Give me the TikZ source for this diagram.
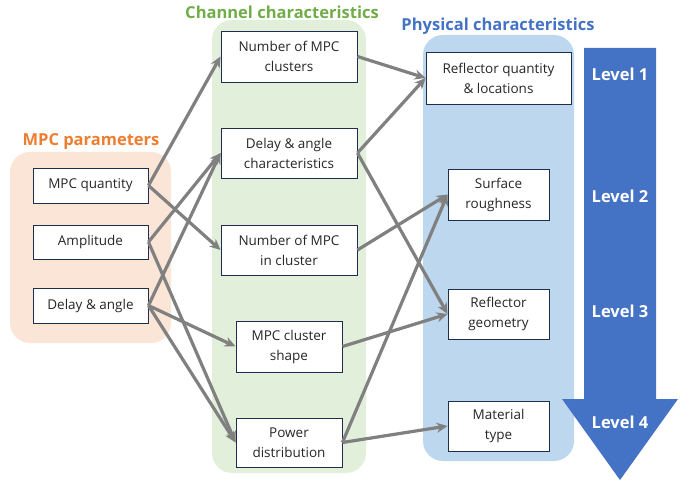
\documentclass[tikz,border=0pt]{standalone}
\usepackage{fontspec}
\setmainfont{Open Sans}
\usetikzlibrary{arrows.meta}
\definecolor{paramfill}{HTML}{FBE5D6}
\definecolor{paramtext}{HTML}{ED7D31}
\definecolor{chanfill}{HTML}{E2EFDA}
\definecolor{chantext}{HTML}{70AD47}
\definecolor{physfill}{HTML}{BDD7EE}
\definecolor{phystext}{HTML}{4472C4}
\definecolor{boxline}{HTML}{1F2D4E}
\definecolor{linkgray}{HTML}{808080}
\def\paramgroup{(10,152) rectangle (171,343)}
\def\changroup{(212,20) rectangle (366,473)}
\def\physgroup{(423,35) rectangle (574,461)}
\def\levelarrow{(584,48) -- (656,48) -- (656,399) -- (678,399) -- (620,480) -- (562,399) -- (584,399) -- cycle}

\begin{document}
\begin{tikzpicture}[x=1pt,y=-1pt,
  every node/.style={font=\fontsize{13.5}{20}\selectfont, text=black!85},
  box/.style={draw=boxline, line width=0.9pt, fill=white, align=center, inner sep=0pt},
  link/.style={draw=linkgray, line width=3.2pt, -{Stealth[length=11pt,width=10pt]}},
  grouptitle/.style={font=\fontsize{16.5}{19}\selectfont\bfseries},
  level/.style={text=white, font=\fontsize{16.5}{19}\selectfont\bfseries}]
  \useasboundingbox (0,0) rectangle (694,481);

  % group backgrounds
  \fill[paramfill, rounded corners=20pt] \paramgroup;
  \fill[chanfill, rounded corners=20pt] \changroup;
  \fill[physfill, rounded corners=20pt] \physgroup;
  \fill[phystext] \levelarrow;

  \node[grouptitle, text=paramtext] (paramtitle) at (91,142) {MPC parameters};
  \node[grouptitle, text=chantext] (chantitle) at (282,12) {Channel characteristics};
  \node[grouptitle, text=phystext] (phystitle) at (498,26) {Physical characteristics};

  % MPC parameters
  \node[box, minimum width=115pt, minimum height=35pt] (mpcqty) at (90.5,185.5) {MPC quantity};
  \node[box, minimum width=115pt, minimum height=34pt] (ampl) at (90.5,242) {Amplitude};
  \node[box, minimum width=115pt, minimum height=35pt] (delay) at (90.5,305.5) {Delay \& angle};

  % channel characteristics
  \node[box, minimum width=136pt, minimum height=51pt] (nclust) at (289,56.5) {Number of MPC\\clusters};
  \node[box, minimum width=136pt, minimum height=50pt] (delaychar) at (289,153) {Delay \& angle\\characteristics};
  \node[box, minimum width=136pt, minimum height=50pt] (ninclust) at (289,250) {Number of MPC\\in cluster};
  \node[box, minimum width=106pt, minimum height=51pt] (cshape) at (289,346.5) {MPC cluster\\shape};
  \node[box, minimum width=106pt, minimum height=49pt] (power) at (289,442.5) {Power\\distribution};

  % physical characteristics
  \node[box, minimum width=145pt, minimum height=52pt] (reflqty) at (498.5,78) {Reflector quantity\\\& locations};
  \node[box, minimum width=101pt, minimum height=51pt] (rough) at (498.5,194.5) {Surface\\roughness};
  \node[box, minimum width=101pt, minimum height=50pt] (geom) at (498.5,314) {Reflector\\geometry};
  \node[box, minimum width=101pt, minimum height=50pt] (material) at (498.5,426) {Material\\type};

  \node[level] (lv1) at (620,74) {Level 1};
  \node[level] (lv2) at (620,196) {Level 2};
  \node[level] (lv3) at (620,311) {Level 3};
  \node[level] (lv4) at (620,422) {Level 4};

  % links
  \draw[link] (mpcqty.east) -- (nclust.west);
  \draw[link] (mpcqty.east) -- (ninclust.west);
  \draw[link] (ampl.east) -- (delaychar.west);
  \draw[link] (ampl.east) -- (power.west);
  \draw[link] (delay.east) -- (delaychar.west);
  \draw[link] (delay.east) -- (cshape.west);
  \draw[link] (delay.east) -- (power.west);
  \draw[link] (nclust.east) -- (reflqty.west);
  \draw[link] (delaychar.east) -- (reflqty.west);
  \draw[link] (delaychar.east) -- (geom.west);
  \draw[link] (ninclust.east) -- (rough.west);
  \draw[link] (cshape.east) -- (geom.west);
  \draw[link] (power.east) -- (rough.west);
  \draw[link] (power.east) -- (material.west);
\end{tikzpicture}
\end{document}
